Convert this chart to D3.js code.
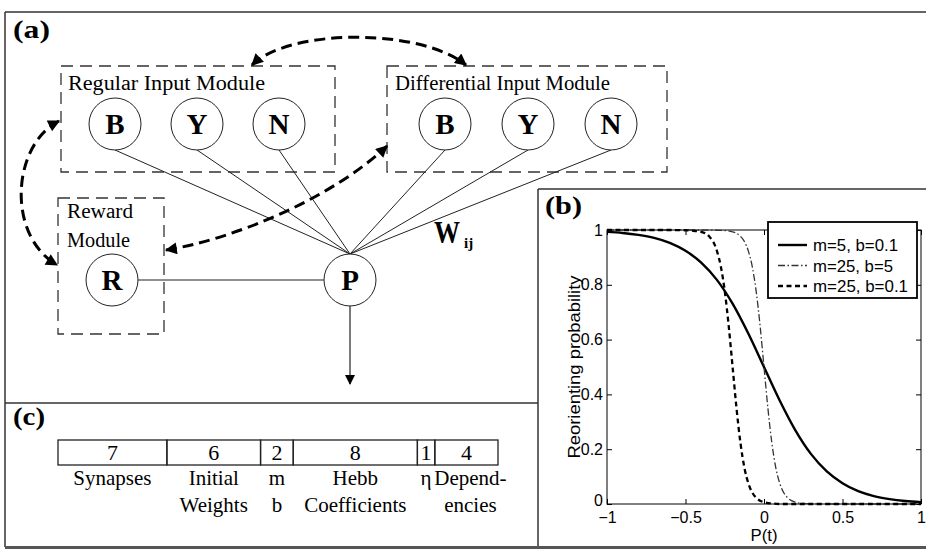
<!DOCTYPE html>
<html><head><meta charset="utf-8">
<script src="https://cdn.jsdelivr.net/npm/d3@7"></script>
<style>body{margin:0;background:#fff}svg{display:block}</style>
</head><body><svg id="c" width="926" height="550"></svg>
<script>
// ---------------- data ----------------
const xTickValues = [-1, -0.5, 0, 0.5, 1];
const yTickValues = [0, 0.2, 0.4, 0.6, 0.8, 1];
const seriesNames = ["m=5, b=0.1", "m=25, b=5", "m=25, b=0.1"];

const solidP    = [-1,-0.9,-0.8,-0.7,-0.6,-0.5,-0.4,-0.3,-0.2,-0.1,0,0.1,0.2,0.3,0.4,0.5,0.6,0.7,0.8,0.9,1];
const solidProb = [0.993,0.989,0.982,0.971,0.953,0.924,0.881,0.818,0.731,0.622,0.5,0.378,0.269,0.182,0.119,0.076,0.047,0.029,0.018,0.011,0.007];

const dashDotP    = [-1,-0.4,-0.3,-0.25,-0.2,-0.175,-0.15,-0.125,-0.1,-0.075,-0.05,-0.025,0,0.025,0.05,0.075,0.1,0.125,0.15,0.2,0.25,0.3,0.5,0.75,1];
const dashDotProb = [1,1,0.999,0.998,0.993,0.988,0.977,0.958,0.924,0.867,0.777,0.651,0.5,0.349,0.223,0.133,0.076,0.042,0.023,0.007,0.002,0.001,0,0,0];

const dashedP    = [-1,-0.6,-0.5,-0.45,-0.4,-0.35,-0.3,-0.275,-0.25,-0.225,-0.2,-0.175,-0.15,-0.125,-0.1,-0.075,-0.05,-0.025,0,0.05,0.1,0.2,0.4,0.6,0.8,1];
const dashedProb = [1,1,0.999,0.997,0.993,0.977,0.924,0.867,0.777,0.651,0.5,0.349,0.223,0.133,0.076,0.042,0.023,0.012,0.007,0.002,0,0,0,0,0,0];

const fieldBits = [7, 6, 2, 8, 1, 4];
const fieldLabels = [["Synapses"], ["Initial","Weights"], ["m","b"], ["Hebb","Coefficients"], ["\u03B7"], ["Depend-","encies"]];

const regularNodes = ["B", "Y", "N"];
const differentialNodes = ["B", "Y", "N"];
const rewardNodes = ["R"];
const outputNode = "P";
const moduleTitles = ["Regular Input Module", "Differential Input Module", ["Reward", "Module"]];
const panelLabels = ["(a)", "(b)", "(c)"];
const weightLabel = ["W", "ij"];
const xAxisLabel = "P(t)";
const yAxisLabel = "Reorienting probability";

// ---------------- drawing ----------------
const svg = d3.select("#c");
const SERIF = "'Liberation Serif','Times New Roman',serif";
const SANS = "'Liberation Sans',Arial,Helvetica,sans-serif";
svg.append("rect").attr("width", 926).attr("height", 550).attr("fill", "#fff");

function txt(g, s, x, y, o = {}) {
  const t = g.append("text").attr("x", x).attr("y", y).text(s)
    .attr("font-family", o.family || SERIF)
    .attr("font-size", o.size || 20)
    .attr("font-weight", o.weight || "normal")
    .attr("text-anchor", o.anchor || "start")
    .attr("fill", o.fill || "#000");
  if (o.w) t.attr("textLength", o.w).attr("lengthAdjust", "spacingAndGlyphs");
  return t;
}

// markers
const defs = svg.append("defs");
defs.append("marker").attr("id", "ah").attr("viewBox", "0 0 10 10")
  .attr("refX", 9).attr("refY", 5).attr("markerWidth", 15).attr("markerHeight", 12)
  .attr("markerUnits", "userSpaceOnUse").attr("orient", "auto-start-reverse")
  .append("path").attr("d", "M0,0 L10,5 L0,10 Z").attr("fill", "#000");
defs.append("marker").attr("id", "ahs").attr("viewBox", "0 0 10 10")
  .attr("refX", 9).attr("refY", 5).attr("markerWidth", 12).attr("markerHeight", 10)
  .attr("markerUnits", "userSpaceOnUse").attr("orient", "auto")
  .append("path").attr("d", "M0,0 L10,5 L0,10 Z").attr("fill", "#000");

// frame
const frame = svg.append("g").attr("stroke", "#333").attr("stroke-width", 1.5).attr("fill", "none");
frame.append("line").attr("x1", 5).attr("y1", 12).attr("x2", 926).attr("y2", 12);
frame.append("line").attr("x1", 5).attr("y1", 12).attr("x2", 5).attr("y2", 547);
frame.append("line").attr("x1", 5).attr("y1", 403).attr("x2", 538).attr("y2", 403);
frame.append("line").attr("x1", 538).attr("y1", 189).attr("x2", 926).attr("y2", 189);
frame.append("line").attr("x1", 538).attr("y1", 189).attr("x2", 538).attr("y2", 547);
svg.append("line").attr("x1", 5).attr("y1", 547.5).attr("x2", 926).attr("y2", 547.5)
  .attr("stroke", "#555").attr("stroke-width", 3);

// ---------- panel (a) ----------
const A = svg.append("g");
txt(A, panelLabels[0], 13, 38, {size: 25, weight: "bold", w: 37});

const dashBox = (x, y, w, h) => A.append("rect").attr("x", x).attr("y", y).attr("width", w).attr("height", h)
  .attr("fill", "none").attr("stroke", "#333").attr("stroke-width", 1.3).attr("stroke-dasharray", "12,7");

const nodeY = 124, nodeR = 26, bottomY = 280;
const xReg = d3.scalePoint().domain(regularNodes).range([115, 279]);
const xDif = d3.scalePoint().domain(differentialNodes).range([445, 611]);
const P = {x: 350, y: bottomY};
const Rpos = {x: 112, y: bottomY};

dashBox(61, 66, 274, 106);
dashBox(387, 66, 280, 106);
dashBox(58, 198, 106, 136);
txt(A, moduleTitles[0], 68, 90, {size: 20, w: 197});
txt(A, moduleTitles[1], 395, 90, {size: 20, w: 215});
txt(A, moduleTitles[2][0], 67, 218, {size: 20, w: 66});
txt(A, moduleTitles[2][1], 67, 247, {size: 20, w: 63});

// connection lines to P
const inputs = regularNodes.map(n => xReg(n)).concat(differentialNodes.map(n => xDif(n)));
inputs.forEach(x => A.append("line").attr("x1", x).attr("y1", nodeY + nodeR).attr("x2", P.x).attr("y2", P.y - nodeR)
  .attr("stroke", "#222").attr("stroke-width", 1));
A.append("line").attr("x1", Rpos.x + nodeR).attr("y1", bottomY).attr("x2", P.x - nodeR).attr("y2", bottomY)
  .attr("stroke", "#222").attr("stroke-width", 1.1);
A.append("line").attr("x1", P.x).attr("y1", P.y + nodeR).attr("x2", P.x).attr("y2", 384)
  .attr("stroke", "#222").attr("stroke-width", 1.2).attr("marker-end", "url(#ahs)");

function node(x, y, label) {
  A.append("circle").attr("cx", x).attr("cy", y).attr("r", nodeR).attr("fill", "#fff")
    .attr("stroke", "#222").attr("stroke-width", 1);
  txt(A, label, x, y + 10, {size: 29, weight: "bold", anchor: "middle"});
}
regularNodes.forEach(n => node(xReg(n), nodeY, n));
differentialNodes.forEach(n => node(xDif(n), nodeY, n));
rewardNodes.forEach(n => node(Rpos.x, Rpos.y, n));
node(P.x, P.y, outputNode);

txt(A, weightLabel[0], 434, 243, {size: 31, weight: "bold", w: 26});
txt(A, weightLabel[1], 464, 248, {size: 15, weight: "bold"});

// dashed curved arrows
const arrowPaths = [
  "M252,65 C290,28 420,28 466,65",
  "M59,121 C12,145 6,235 57,265",
  "M166,250 C230,240 330,200 387,146"
];
arrowPaths.forEach(d => A.append("path").attr("d", d).attr("fill", "none")
  .attr("stroke", "#000").attr("stroke-width", 3).attr("stroke-dasharray", "11,6")
  .attr("marker-start", "url(#ah)").attr("marker-end", "url(#ah)"));

// ---------- panel (c) ----------
const C = svg.append("g");
txt(C, panelLabels[2], 13, 425, {size: 25, weight: "bold", w: 32});
// cell width = small fixed pad + width per bit
const cellPad = 2.2;
const cum = [0]; fieldBits.forEach(b => cum.push(cum[cum.length - 1] + b));
const xb = d3.scaleLinear().domain([0, d3.sum(fieldBits)]).range([58, 498 - cellPad * fieldBits.length]);
const edge = i => xb(cum[i]) + cellPad * i;
const tY0 = 440, tY1 = 465;
fieldBits.forEach((b, i) => {
  const x0 = edge(i), x1 = edge(i + 1);
  C.append("rect").attr("x", x0).attr("y", tY0).attr("width", x1 - x0).attr("height", tY1 - tY0)
    .attr("fill", "none").attr("stroke", "#222").attr("stroke-width", 1.3);
  txt(C, String(b), (x0 + x1) / 2, 460, {size: 22, anchor: "middle"});
  const cx = (x0 + x1) / 2 + (i === fieldBits.length - 1 ? 4 : 0);
  fieldLabels[i].forEach((l, j) => txt(C, l, cx, 485 + j * 27, {size: 21, anchor: "middle"}));
});

// ---------- panel (b) ----------
const B = svg.append("g");
txt(B, panelLabels[1], 545, 214, {size: 26, weight: "bold", w: 37});
const x = d3.scaleLinear().domain([-1, 1]).range([607, 921]);
const y = d3.scaleLinear().domain([0, 1]).range([504, 230]);
const fmt = d3.format("~g");

const styleAxis = g => {
  g.select(".domain").remove();
  g.selectAll(".tick line").attr("stroke", "#000").attr("stroke-width", 1);
  g.selectAll("text").attr("font-family", SANS).attr("font-size", 16).attr("fill", "#000");
};
B.append("g").attr("transform", `translate(0,${y(0)})`)
  .call(d3.axisBottom(x).tickValues(xTickValues).tickFormat(fmt).tickSizeInner(-5).tickSizeOuter(0).tickPadding(8))
  .call(styleAxis);
B.append("g").attr("transform", `translate(0,${y(1)})`)
  .call(d3.axisTop(x).tickValues(xTickValues).tickFormat("").tickSizeInner(-5).tickSizeOuter(0))
  .call(styleAxis);
B.append("g").attr("transform", `translate(${x(-1)},0)`)
  .call(d3.axisLeft(y).tickValues(yTickValues).tickFormat(fmt).tickSizeInner(-5).tickSizeOuter(0).tickPadding(4))
  .call(styleAxis)
  .call(g => g.selectAll(".tick").filter(d => d === 0).select("text").attr("dy", "0.12em"));
B.append("g").attr("transform", `translate(${x(1)},0)`)
  .call(d3.axisRight(y).tickValues(yTickValues).tickFormat("").tickSizeInner(-5).tickSizeOuter(0))
  .call(styleAxis);
B.append("rect").attr("x", x(-1)).attr("y", y(1)).attr("width", x(1) - x(-1)).attr("height", y(0) - y(1))
  .attr("fill", "none").attr("stroke", "#000").attr("stroke-width", 1);

const line = d3.line().x(d => x(d[0])).y(d => y(d[1])).curve(d3.curveMonotoneX);
const series = [
  {name: seriesNames[0], P: solidP, v: solidProb, dash: null, w: 2.4, color: "#000"},
  {name: seriesNames[1], P: dashDotP, v: dashDotProb, dash: "7,2.5,1.5,2.5", w: 1.3, color: "#333"},
  {name: seriesNames[2], P: dashedP, v: dashedProb, dash: "5,3.5", w: 2.3, color: "#000"}
];
series.forEach(s => {
  B.append("path").datum(s.P.map((p, i) => [p, s.v[i]])).attr("d", line)
    .attr("fill", "none").attr("stroke", s.color).attr("stroke-width", s.w)
    .attr("stroke-dasharray", s.dash);
});

// axis labels
txt(B, xAxisLabel, x(0), 541, {family: SANS, size: 17, anchor: "middle", w: 27});
B.append("text").attr("transform", `translate(580,${(y(0) + y(1)) / 2}) rotate(-90)`)
  .attr("text-anchor", "middle").attr("font-family", SANS).attr("font-size", 17)
  .attr("textLength", 183).attr("lengthAdjust", "spacingAndGlyphs").text(yAxisLabel);

// legend
const L = B.append("g");
L.append("rect").attr("x", 768).attr("y", 222).attr("width", 149).attr("height", 76)
  .attr("fill", "#fff").attr("stroke", "#000").attr("stroke-width", 1.8);
const legendWidths = [85, 80, 95];
const ly = d3.scalePoint().domain(seriesNames).range([245, 286]);
series.forEach((s, i) => {
  const yy = ly(s.name);
  L.append("line").attr("x1", 778).attr("x2", 807).attr("y1", yy).attr("y2", yy)
    .attr("stroke", s.color).attr("stroke-width", s.w).attr("stroke-dasharray", s.dash);
  txt(L, s.name, 813, yy + 6, {family: SANS, size: 17, w: legendWidths[i]});
});
</script></body></html>
